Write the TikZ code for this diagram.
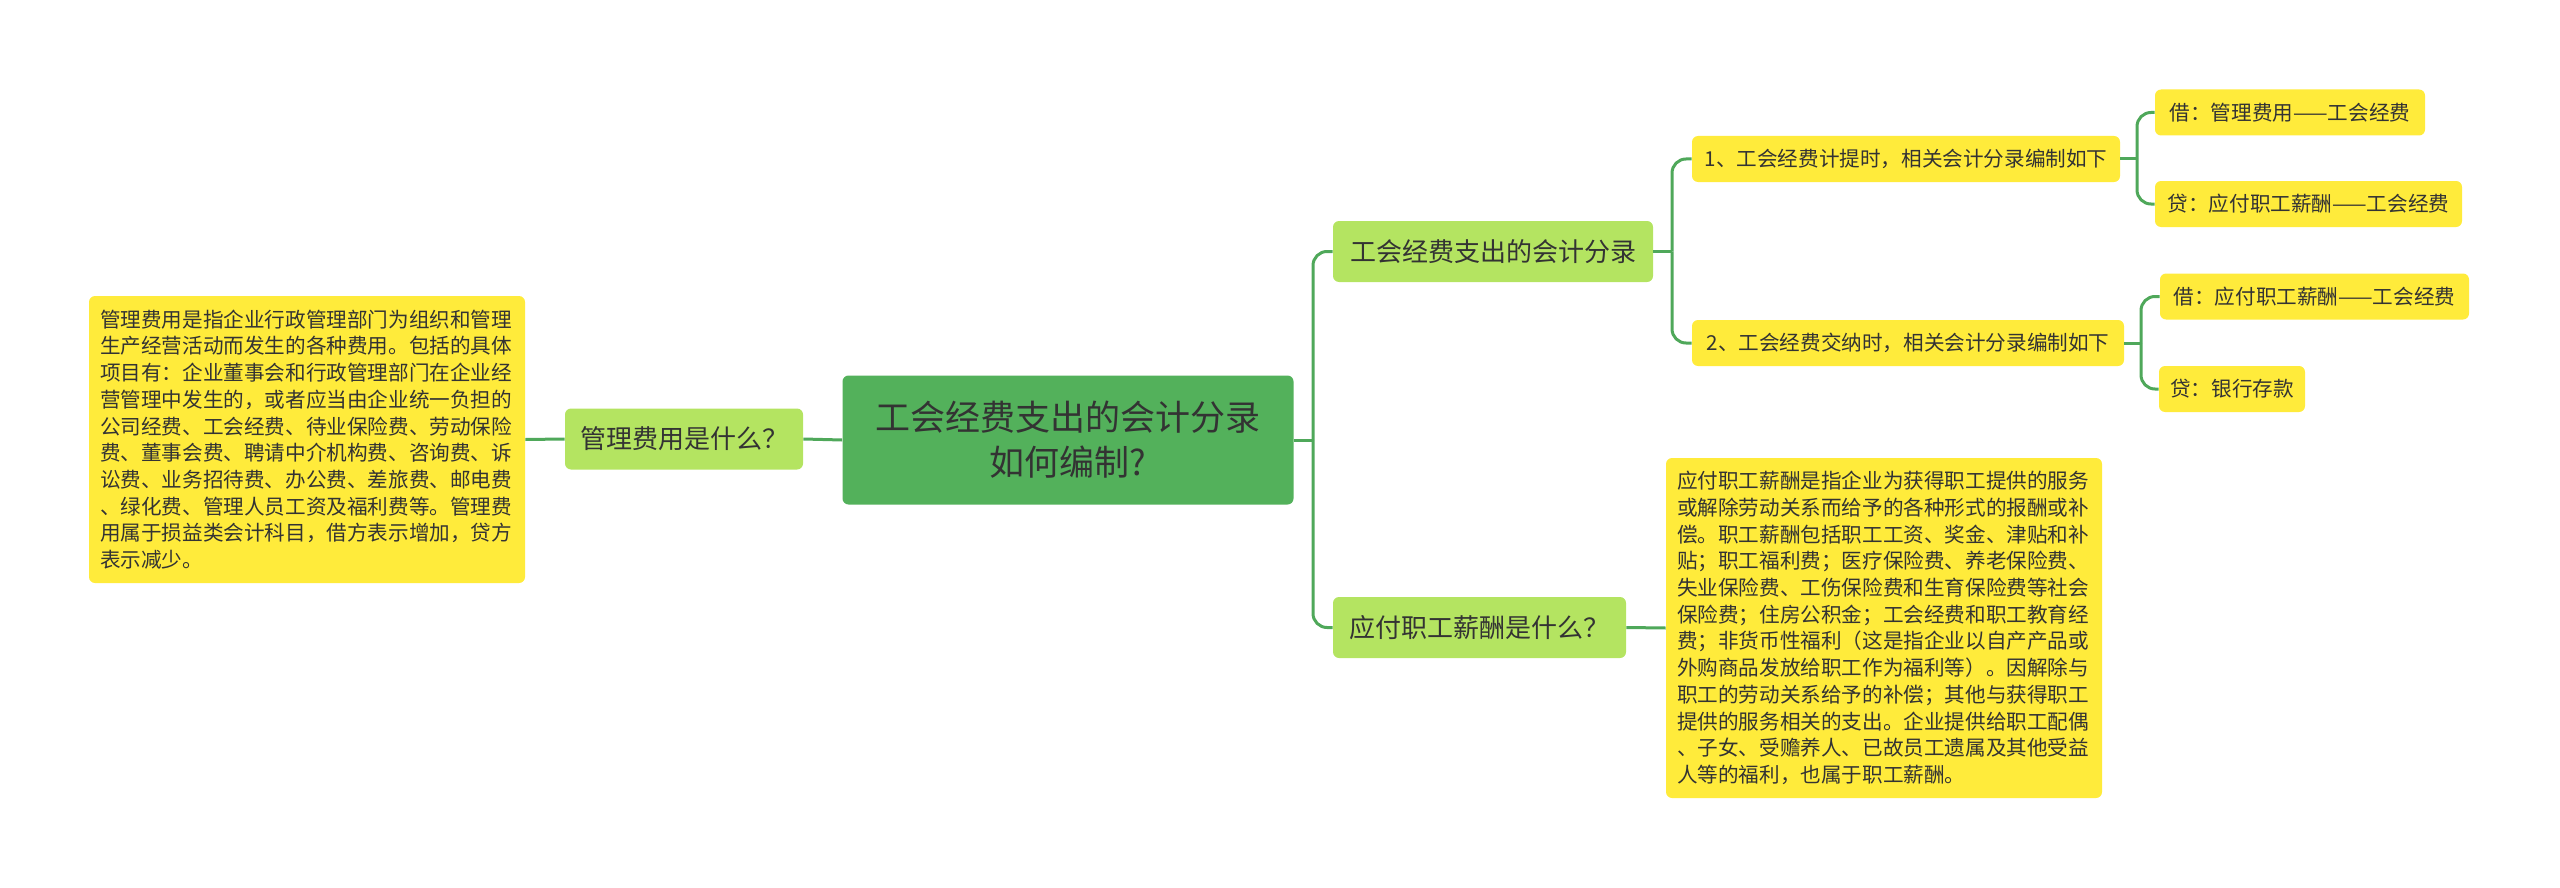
\documentclass[tikz,border=0pt]{standalone}
\usepackage{fontspec}
\setmainfont{Noto Sans CJK SC}
\usepackage{xcolor}
\usepackage{tikz}
\usetikzlibrary{positioning}

\definecolor{verde}{HTML}{53B15B}
\definecolor{verdeclaro}{HTML}{B4E461}
\definecolor{amarelo}{HTML}{FFEB3B}
\definecolor{linha}{HTML}{4FA85A}
\definecolor{tinta}{HTML}{333333}

\begin{document}
\begin{tikzpicture}[
  x=0.5pt, y=-0.5pt,
  text=tinta,
  root/.style={fill=verde, rounded corners=3pt, align=center, inner sep=0pt,
               font=\fontsize{17.5pt}{22.5pt}\selectfont},
  branch/.style={fill=verdeclaro, rounded corners=3pt, align=center, inner sep=0pt,
                 minimum height=30.5pt, font=\fontsize{13pt}{16pt}\selectfont},
  sub/.style={fill=amarelo, rounded corners=3pt, align=center, inner sep=0pt,
              minimum height=23pt, font=\fontsize{10.3pt}{13pt}\selectfont},
  leaf/.style={sub},
  memo/.style={fill=amarelo, rounded corners=3pt, align=left, inner xsep=5.5pt,
               inner ysep=0pt, text width=207pt,
               font=\fontsize{10.3pt}{13.35pt}\selectfont},
  link/.style={draw=linha, line width=1.5pt},
  curva/.style={link, rounded corners=7pt}
]
\useasboundingbox (0,0) rectangle (2560,888);

% ---------- Centro ----------
\node[root, minimum width=225.5pt, minimum height=64.5pt] (root) at (1068,440)
  {工会经费支出的会计分录\\如何编制?};

% ---------- Lado esquerdo ----------
\node[branch, minimum width=119pt] (mgmt) at (684,439) {管理费用是什么？};
\node[memo, minimum height=143.5pt] (mgmtmemo) at (307,439.5) {%
管理费用是指企业行政管理部门为组织和管理\\
生产经营活动而发生的各种费用。包括的具体\\
项目有：企业董事会和行政管理部门在企业经\\
营管理中发生的，或者应当由企业统一负担的\\
公司经费、工会经费、待业保险费、劳动保险\\
费、董事会费、聘请中介机构费、咨询费、诉\\
讼费、业务招待费、办公费、差旅费、邮电费\\
、绿化费、管理人员工资及福利费等。管理费\\
用属于损益类会计科目，借方表示增加，贷方\\
表示减少。};

% ---------- Lado direito ----------
\node[branch, minimum width=160pt] (entry) at (1493,251.5) {工会经费支出的会计分录};
\node[branch, minimum width=146.5pt] (wage) at (1479.5,627.5) {应付职工薪酬是什么？};
\node[memo, minimum height=170pt] (wagememo) at (1884,628) {%
应付职工薪酬是指企业为获得职工提供的服务\\
或解除劳动关系而给予的各种形式的报酬或补\\
偿。职工薪酬包括职工工资、奖金、津贴和补\\
贴；职工福利费；医疗保险费、养老保险费、\\
失业保险费、工伤保险费和生育保险费等社会\\
保险费；住房公积金；工会经费和职工教育经\\
费；非货币性福利（这是指企业以自产产品或\\
外购商品发放给职工作为福利等）。因解除与\\
职工的劳动关系给予的补偿；其他与获得职工\\
提供的服务相关的支出。企业提供给职工配偶\\
、子女、受赡养人、已故员工遗属及其他受益\\
人等的福利，也属于职工薪酬。};

\node[sub, minimum width=214pt] (accrue) at (1906,159) {1、工会经费计提时，相关会计分录编制如下};
\node[sub, minimum width=216pt] (pay) at (1908,343) {2、工会经费交纳时，相关会计分录编制如下};

\node[leaf, minimum width=135pt] (dr1) at (2290,112.5) {借：管理费用——工会经费};
\node[leaf, minimum width=153.5pt] (cr1) at (2308.5,204) {贷：应付职工薪酬——工会经费};
\node[leaf, minimum width=154.5pt] (dr2) at (2314.5,296.5) {借：应付职工薪酬——工会经费};
\node[leaf, minimum width=73pt] (cr2) at (2232,389) {贷：银行存款};

% ---------- Junções ----------
\coordinate (jr) at (1313,440);
\coordinate (je) at (1672,251.5);
\coordinate (ja) at (2137,159);
\coordinate (jp) at (2141,343);

% ---------- Ligações ----------
\draw[link] (root.west) -- (mgmt.east);
\draw[link] (mgmt.west) -- (mgmtmemo.east);

\draw[link] (root.east) -- (jr);
\draw[curva] (jr) |- (entry.west);
\draw[curva] (jr) |- (wage.west);
\draw[link] (wage.east) -- (wagememo.west);

\draw[link] (entry.east) -- (je);
\draw[curva] (je) |- (accrue.west);
\draw[curva] (je) |- (pay.west);

\draw[link] (accrue.east) -- (ja);
\draw[curva] (ja) |- (dr1.west);
\draw[curva] (ja) |- (cr1.west);

\draw[link] (pay.east) -- (jp);
\draw[curva] (jp) |- (dr2.west);
\draw[curva] (jp) |- (cr2.west);

\end{tikzpicture}
\end{document}
